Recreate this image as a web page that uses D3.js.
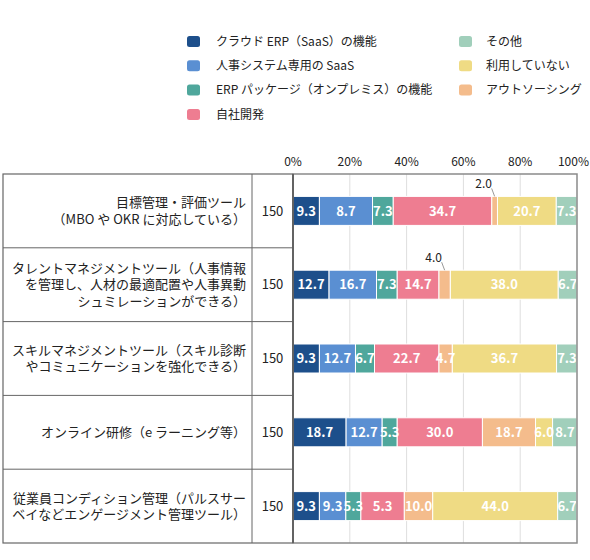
<!DOCTYPE html>
<html>
<head>
<meta charset="utf-8">
<script src="https://cdn.jsdelivr.net/npm/d3@7"></script>
<style>
  body { margin: 0; background: #fff; }
  svg { font-family: "Noto Sans CJK JP", "Noto Sans", sans-serif; }
</style>
</head>
<body>
<svg id="chart" width="590" height="560"></svg>
<script>
// categories (rows), each label split into its display lines
const categories = [
  ["目標管理・評価ツール", "（MBO や OKR に対応している）"],
  ["タレントマネジメントツール（人事情報", "を管理し、人材の最適配置や人事異動", "シュミレーションができる）"],
  ["スキルマネジメントツール（スキル診断", "やコミュニケーションを強化できる）"],
  ["オンライン研修（e ラーニング等）"],
  ["従業員コンディション管理（パルスサー", "ベイなどエンゲージメント管理ツール）"]
];
const counts = [150, 150, 150, 150, 150];

const seriesNames = [
  "クラウド ERP（SaaS）の機能",
  "人事システム専用の SaaS",
  "ERP パッケージ（オンプレミス）の機能",
  "自社開発",
  "アウトソーシング",
  "利用していない",
  "その他"
];
const seriesColors = ["#1d4f8b", "#5a8fd2", "#4fa79c", "#ee7d91", "#f4bc8c", "#efdb84", "#a1cfbb"];

// values per row, in series order
const cloudErp   = [9.3, 12.7, 9.3, 18.7, 9.3];
const hrSaas     = [18.7, 16.7, 12.7, 12.7, 9.3];
const erpPackage = [7.3, 7.3, 6.7, 5.3, 5.3];
const inHouse    = [34.7, 14.7, 22.7, 30.0, 15.3];
const outsource  = [2.0, 4.0, 4.7, 18.7, 10.0];
const notUsed    = [20.7, 38.0, 36.7, 6.0, 44.0];
const other      = [7.3, 6.7, 7.3, 8.7, 6.7];
const seriesValues = [cloudErp, hrSaas, erpPackage, inHouse, outsource, notUsed, other];

// labels as printed on the original where they differ from the value
const labelOverrides = { "0,1": "8.7", "4,3": "5.3" };

const xTicks = [0, 20, 40, 60, 80, 100];

// legend: left column 4 items, right column 3 items (その他, 利用していない, アウトソーシング)
const legendLeft = [0, 1, 2, 3];
const legendRight = [6, 5, 4];

const svg = d3.select("#chart");

const tableLeft = 3, numLeft = 252, plotLeft = 293, plotRight = 577;
const plotTop = 174, plotBottom = 543;

const x = d3.scaleLinear().domain([0, 100]).range([plotLeft, plotRight]);
const y = d3.scaleBand().domain(d3.range(categories.length)).range([plotTop, plotBottom]);
const barH = 29;

// legend
const legend = svg.append("g");
const legendRow = (i) => 41.5 + i * 24.3;
const addLegend = (idxs, sx, tx) => {
  idxs.forEach((s, i) => {
    legend.append("rect")
      .attr("x", sx).attr("y", legendRow(i) - 5.5)
      .attr("width", 13).attr("height", 11)
      .attr("rx", 2.5)
      .attr("fill", seriesColors[s]);
    legend.append("text")
      .attr("x", tx).attr("y", legendRow(i))
      .attr("dy", "0.36em")
      .attr("font-size", 12)
      .attr("fill", "#222")
      .text(seriesNames[s]);
  });
};
addLegend(legendLeft, 187, 216);
addLegend(legendRight, 459, 486);

// grid lines
svg.append("g").selectAll("line")
  .data(xTicks.slice(1, -1))
  .join("line")
  .attr("x1", d => x(d)).attr("x2", d => x(d))
  .attr("y1", plotTop).attr("y2", plotBottom)
  .attr("stroke", "#dedede")
  .attr("stroke-width", 1);

// top tick labels (last one kept inside the page edge)
svg.append("g").selectAll("text")
  .data(xTicks)
  .join("text")
  .attr("x", d => d === 100 ? 589 : x(d)).attr("y", 162)
  .attr("dy", "0.36em")
  .attr("text-anchor", d => d === 100 ? "end" : "middle")
  .attr("font-size", 12)
  .attr("fill", "#222")
  .text(d => d + "%");

// stacked bars
const rows = categories.map((c, r) => {
  let acc = 0;
  return seriesValues.map((vals, s) => {
    const d = { row: r, series: s, x0: acc, x1: acc + vals[r], value: vals[r] };
    acc += vals[r];
    return d;
  });
}).flat();

const bars = svg.append("g");
bars.selectAll("rect")
  .data(rows)
  .join("rect")
  .attr("x", d => x(d.x0))
  .attr("y", d => y(d.row) + y.bandwidth() / 2 - barH / 2)
  .attr("width", d => Math.max(0, x(Math.min(100, d.x1)) - x(d.x0)))
  .attr("height", barH)
  .attr("fill", d => seriesColors[d.series])
  .attr("stroke", "#fff")
  .attr("stroke-width", 1);

const labelText = d => labelOverrides[d.row + "," + d.series] || d3.format(".1f")(d.value);
const small = d => d.value <= 4.0;

// inner labels
bars.selectAll("text.inner")
  .data(rows.filter(d => !small(d)))
  .join("text")
  .attr("class", "inner")
  .attr("x", d => x((d.x0 + d.x1) / 2))
  .attr("y", d => y(d.row) + y.bandwidth() / 2)
  .attr("dy", "0.36em")
  .attr("text-anchor", "middle")
  .attr("font-size", 13)
  .attr("font-weight", "bold")
  .attr("fill", "#fff")
  .text(labelText);

// outside labels with leader lines
const outer = rows.filter(small);
bars.selectAll("line.leader")
  .data(outer)
  .join("line")
  .attr("class", "leader")
  .attr("x1", d => x((d.x0 + d.x1) / 2) - 3)
  .attr("y1", d => y(d.row) + y.bandwidth() / 2 - barH / 2 - 8)
  .attr("x2", d => x((d.x0 + d.x1) / 2))
  .attr("y2", d => y(d.row) + y.bandwidth() / 2 - barH / 2)
  .attr("stroke", "#999")
  .attr("stroke-width", 1);
bars.selectAll("text.outer")
  .data(outer)
  .join("text")
  .attr("class", "outer")
  .attr("x", d => x((d.x0 + d.x1) / 2) - 11)
  .attr("y", d => y(d.row) + y.bandwidth() / 2 - barH / 2 - 13)
  .attr("dy", "0.36em")
  .attr("text-anchor", "middle")
  .attr("font-size", 12)
  .attr("fill", "#222")
  .text(labelText);

// table on the left
const table = svg.append("g");
table.append("rect")
  .attr("x", tableLeft).attr("y", plotTop)
  .attr("width", plotLeft - tableLeft).attr("height", plotBottom - plotTop)
  .attr("fill", "none")
  .attr("stroke", "#666")
  .attr("stroke-width", 1.2);
table.append("line")
  .attr("x1", numLeft).attr("x2", numLeft)
  .attr("y1", plotTop).attr("y2", plotBottom)
  .attr("stroke", "#666").attr("stroke-width", 1);
table.selectAll("line.sep")
  .data(d3.range(1, categories.length))
  .join("line")
  .attr("class", "sep")
  .attr("x1", tableLeft).attr("x2", plotLeft)
  .attr("y1", d => y(d)).attr("y2", d => y(d))
  .attr("stroke", "#666").attr("stroke-width", 1);

categories.forEach((lines, r) => {
  const cy = y(r) + y.bandwidth() / 2;
  const lh = 16.5;
  const t = table.append("text")
    .attr("text-anchor", "end")
    .attr("font-size", 13)
    .attr("fill", "#222");
  lines.forEach((ln, i) => {
    t.append("tspan")
      .attr("x", 246)
      .attr("y", cy + (i - (lines.length - 1) / 2) * lh)
      .attr("dy", "0.36em")
      .text(ln);
  });
  table.append("text")
    .attr("x", (numLeft + plotLeft) / 2)
    .attr("y", cy)
    .attr("dy", "0.36em")
    .attr("text-anchor", "middle")
    .attr("font-size", 13)
    .attr("fill", "#222")
    .text(counts[r]);
});

// plot frame
svg.append("rect")
  .attr("x", plotLeft).attr("y", plotTop)
  .attr("width", plotRight - plotLeft).attr("height", plotBottom - plotTop)
  .attr("fill", "none")
  .attr("stroke", "#8a8a8a")
  .attr("stroke-width", 1.5);
svg.append("line")
  .attr("x1", plotLeft).attr("x2", plotLeft)
  .attr("y1", plotTop).attr("y2", plotBottom)
  .attr("stroke", "#555").attr("stroke-width", 1.5);
</script>
</body>
</html>
